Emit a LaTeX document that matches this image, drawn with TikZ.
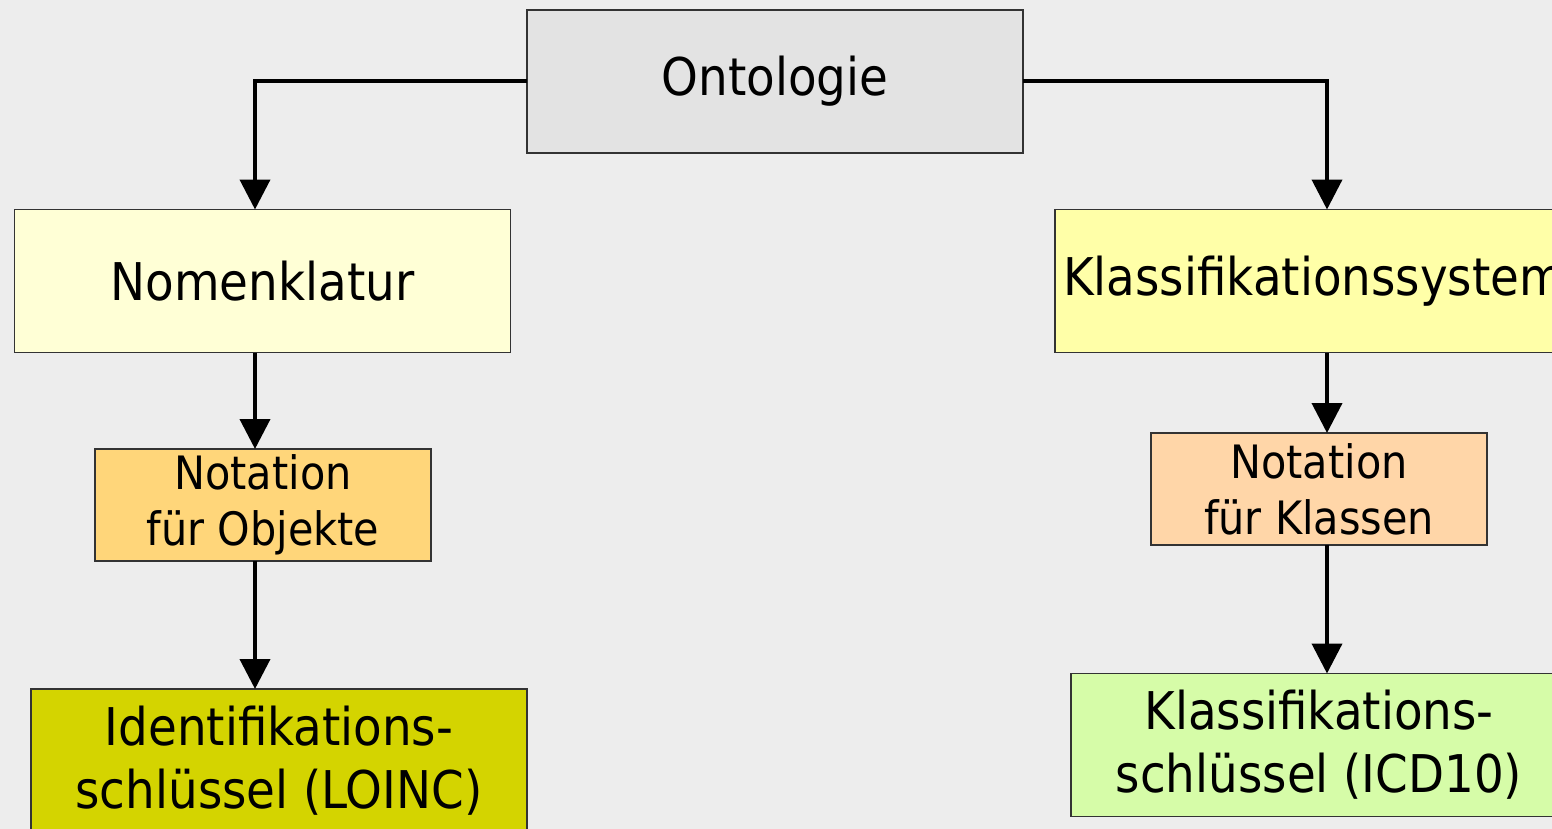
\documentclass[tikz,border=0pt]{standalone}
\usepackage{fontspec}
\setmainfont{DejaVu Sans Condensed}
\usetikzlibrary{arrows.meta}
\definecolor{hgrund}{HTML}{EDEDED}
\definecolor{grau}{HTML}{E3E3E3}
\definecolor{hellgelb}{HTML}{FFFFD6}
\definecolor{gelb}{HTML}{FFFFA8}
\definecolor{orange}{HTML}{FFD67A}
\definecolor{pfirsich}{HTML}{FFD6A8}
\definecolor{oliv}{HTML}{D4D400}
\definecolor{hellgruen}{HTML}{D6FCA8}
\begin{document}
\begin{tikzpicture}[x=0.5pt,y=-0.5pt, % Pixelraster
    kasten/.style={draw=black!80, line width=0.75pt, inner sep=0pt, outer sep=0pt,
                   minimum width=248pt, minimum height=71.5pt, align=center,
                   font=\fontsize{26}{31.5}\selectfont},
    klein/.style={kasten, minimum width=168pt, minimum height=56pt,
                  font=\fontsize{23}{28}\selectfont},
    pfeil/.style={line width=2pt, -{Triangle[length=15pt,width=15pt]}}]
    % Rahmen und Hintergrund
    \useasboundingbox (0,0) rectangle (1552,829);
    \clip (0,0) rectangle (1552,829);
    \fill[hgrund] (0,0) rectangle (1552,829);
    % Spuren der Pfeile
    \coordinate (lx) at (255,0); % linke Spalte
    \coordinate (rx) at (1327,0); % rechte Spalte
    % Wurzel
    \node[kasten, fill=grau] (onto) at (775,81.5) {Ontologie};
    % linker Zweig
    \node[kasten, fill=hellgelb] (nom) at (262.5,281) {Nomenklatur};
    \node[klein, fill=orange] (objn) at (263,505) {Notation\\für Objekte};
    \node[kasten, fill=oliv] (ident) at (279,760.5) {Identifikations-\\schlüssel (LOINC)};
    % rechter Zweig
    \node[kasten, fill=gelb, minimum width=259pt] (ksys) at (1314,281) {Klassifikationssystem};
    \node[klein, fill=pfirsich] (klan) at (1319,489) {Notation\\für Klassen};
    \node[kasten, fill=hellgruen] (icd) at (1319,745) {Klassifikations-\\schlüssel (ICD10)};
    % Pfeile links
    \draw[pfeil] (onto.west) -| (lx |- nom.north);
    \draw[pfeil] (lx |- nom.south) -- (lx |- objn.north);
    \draw[pfeil] (lx |- objn.south) -- (lx |- ident.north);
    % Pfeile rechts
    \draw[pfeil] (onto.east) -| (rx |- ksys.north);
    \draw[pfeil] (rx |- ksys.south) -- (rx |- klan.north);
    \draw[pfeil] (rx |- klan.south) -- (rx |- icd.north);
\end{tikzpicture}
\end{document}
